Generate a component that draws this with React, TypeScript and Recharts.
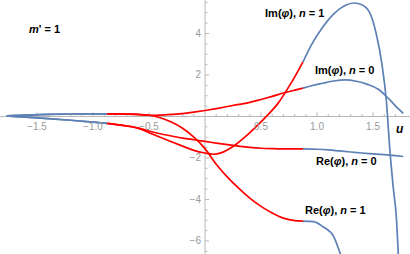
import React from "react";
import { LineChart, Line, XAxis, YAxis, ReferenceLine, ReferenceDot } from "recharts";

// curve samples (u, value)
const imN0U = [-1.77, -1.6, -1.4, -1.2, -1.0, -0.875, -0.75, -0.6, -0.5, -0.4, -0.3, -0.2, -0.1, 0, 0.1, 0.2, 0.3, 0.4, 0.5, 0.6, 0.7, 0.8, 0.875, 0.95, 1.05, 1.15, 1.25, 1.35, 1.45, 1.55, 1.65, 1.72, 1.77];
const imN0V = [0.03, 0.07, 0.1, 0.12, 0.13, 0.13, 0.13, 0.1, 0.06, 0.07, 0.1, 0.14, 0.21, 0.29, 0.38, 0.48, 0.58, 0.68, 0.82, 0.97, 1.13, 1.27, 1.37, 1.48, 1.6, 1.71, 1.76, 1.7, 1.55, 1.3, 0.8, 0.4, 0.15];

const imN1U = [-1.77, -1.6, -1.4, -1.2, -1.0, -0.875, -0.75, -0.6, -0.5, -0.4, -0.3, -0.2, -0.1, 0, 0.07, 0.15, 0.25, 0.35, 0.45, 0.55, 0.65, 0.75, 0.8, 0.875, 0.95, 1.05, 1.15, 1.25, 1.33, 1.4, 1.47, 1.53, 1.58, 1.62, 1.65, 1.68, 1.71, 1.725, 1.74];
const imN1V = [0.03, -0.03, -0.1, -0.18, -0.27, -0.33, -0.42, -0.56, -0.78, -1.0, -1.22, -1.43, -1.63, -1.76, -1.82, -1.74, -1.45, -1.02, -0.52, 0.02, 0.62, 1.45, 1.9, 2.63, 3.45, 4.3, 4.95, 5.35, 5.47, 5.38, 5.0, 3.95, 2.5, 0.7, -1.6, -3.4, -5.0, -6.6, -8.0];

const reN0U = [-1.77, -1.6, -1.4, -1.2, -1.0, -0.875, -0.75, -0.6, -0.5, -0.4, -0.3, -0.2, -0.1, 0, 0.1, 0.2, 0.3, 0.4, 0.5, 0.6, 0.7, 0.8, 0.875, 1.0, 1.1, 1.2, 1.3, 1.4, 1.5, 1.6, 1.7, 1.77];
const reN0V = [0.03, -0.03, -0.1, -0.18, -0.27, -0.33, -0.42, -0.55, -0.7, -0.83, -0.94, -1.04, -1.12, -1.2, -1.28, -1.36, -1.43, -1.49, -1.53, -1.55, -1.56, -1.56, -1.56, -1.58, -1.61, -1.66, -1.71, -1.76, -1.8, -1.84, -1.89, -1.93];

const reN1U = [-1.77, -1.6, -1.4, -1.2, -1.0, -0.875, -0.75, -0.6, -0.5, -0.4, -0.3, -0.2, -0.1, 0, 0.1, 0.2, 0.3, 0.4, 0.5, 0.6, 0.7, 0.8, 0.875, 0.97, 1.05, 1.15, 1.2, 1.25];
const reN1V = [0.03, 0.07, 0.1, 0.12, 0.13, 0.13, 0.13, 0.1, 0.06, -0.06, -0.27, -0.57, -1.0, -1.55, -2.3, -2.92, -3.45, -3.93, -4.33, -4.65, -4.9, -5.02, -5.04, -5.07, -5.3, -5.8, -6.5, -7.3];

const xMajorTicks = [-1.5, -1.0, -0.5, 0.5, 1.0, 1.5];
const xTickLabels = ["\u22121.5", "\u22121.0", "\u22120.5", "0.5", "1.0", "1.5"];
const xMinorTicks = [-1.7, -1.6, -1.4, -1.3, -1.2, -1.1, -0.9, -0.8, -0.7, -0.6, -0.4, -0.3, -0.2, -0.1, 0.1, 0.2, 0.3, 0.4, 0.6, 0.7, 0.8, 0.9, 1.1, 1.2, 1.3, 1.4, 1.6, 1.7];
const yMajorTicks = [-6, -4, -2, 2, 4];
const yTickLabels = ["\u22126", "\u22124", "\u22122", "2", "4"];
const yMinorTicks = [-6.5, -5.5, -5, -4.5, -3.5, -3, -2.5, -1.5, -1, -0.5, 0.5, 1, 1.5, 2.5, 3, 3.5, 4.5, 5, 5.5];

const SPLIT_LO = -0.875;
const SPLIT_HI = 0.875;
const BLUE = "#5E81B5";
const RED = "#FF0000";
const FONT = "'Liberation Sans', Arial, sans-serif";

function pieces(us: number[], vs: number[]) {
  const pts = us.map((u, i) => ({ u, v: vs[i] }));
  return [
    { pts: pts.filter((p) => p.u <= SPLIT_LO), color: BLUE },
    { pts: pts.filter((p) => p.u >= SPLIT_LO && p.u <= SPLIT_HI), color: RED },
    { pts: pts.filter((p) => p.u >= SPLIT_HI), color: BLUE },
  ];
}

const curves = [
  { name: "imN0", segs: pieces(imN0U, imN0V) },
  { name: "imN1", segs: pieces(imN1U, imN1V) },
  { name: "reN0", segs: pieces(reN0U, reN0V) },
  { name: "reN1", segs: pieces(reN1U, reN1V) },
];

const Lbl = ({ a, b, c }: { a: string; b: string; c: string }) => (
  <>
    <tspan>{a}(</tspan>
    <tspan fontStyle="italic">{b}</tspan>
    <tspan>), </tspan>
    <tspan fontStyle="italic">n</tspan>
    <tspan> = {c}</tspan>
  </>
);

export default function App() {
  const axisCol = "#b8b8b8";
  const tickCol = "#999";
  return (
    <div style={{ position: "absolute", left: 0, top: 0, background: "#fff" }}>
      <LineChart width={410} height={254} margin={{ top: 0, right: 0, bottom: 0, left: 0 }}>
        <XAxis type="number" dataKey="u" domain={[-1.83, 1.83]} hide allowDataOverflow />
        <YAxis type="number" domain={[-6.627, 5.614]} hide allowDataOverflow />

        <ReferenceLine y={0} stroke={axisCol} strokeWidth={1} />
        <ReferenceLine x={0} stroke={axisCol} strokeWidth={1} />
        {xMajorTicks.map((t) => (
          <ReferenceLine key={"xM" + t} segment={[{ x: t, y: 0 }, { x: t, y: 0.2 }]} stroke={axisCol} />
        ))}
        {xMinorTicks.map((t) => (
          <ReferenceLine key={"xm" + t} segment={[{ x: t, y: 0 }, { x: t, y: 0.12 }]} stroke={axisCol} />
        ))}
        {yMajorTicks.map((t) => (
          <ReferenceLine key={"yM" + t} segment={[{ x: 0, y: t }, { x: 0.036, y: t }]} stroke={axisCol} />
        ))}
        {yMinorTicks.map((t) => (
          <ReferenceLine key={"ym" + t} segment={[{ x: 0, y: t }, { x: 0.022, y: t }]} stroke={axisCol} />
        ))}
        {xMajorTicks.map((t, i) => (
          <ReferenceDot key={"xl" + t} x={t} y={0} r={0}
            shape={(p: any) => (
              <text x={p.cx} y={p.cy + 14} textAnchor="middle" fontFamily={FONT} fontSize={10} fill={tickCol}>
                {xTickLabels[i]}
              </text>
            )}
          />
        ))}
        {yMajorTicks.map((t, i) => (
          <ReferenceDot key={"yl" + t} x={0} y={t} r={0}
            shape={(p: any) => (
              <text x={p.cx - 4} y={p.cy + 3.5} textAnchor="end" fontFamily={FONT} fontSize={10} fill={tickCol}>
                {yTickLabels[i]}
              </text>
            )}
          />
        ))}

        {curves.map((c) =>
          c.segs.map((s, j) => (
            <Line key={c.name + j} data={s.pts} dataKey="v" type="monotone" stroke={s.color}
              strokeWidth={1.7} dot={false} activeDot={false} isAnimationActive={false} />
          ))
        )}

        <ReferenceDot x={0.536} y={4.8} r={0}
          shape={(p: any) => (
            <text x={p.cx} y={p.cy} fontFamily={FONT} fontSize={11} fontWeight="bold" fill="#000">
              <Lbl a="Im" b="φ" c="1" />
            </text>
          )}
        />
        <ReferenceDot x={0.982} y={2.05} r={0}
          shape={(p: any) => (
            <text x={p.cx} y={p.cy} fontFamily={FONT} fontSize={11} fontWeight="bold" fill="#000">
              <Lbl a="Im" b="φ" c="0" />
            </text>
          )}
        />
        <ReferenceDot x={0.991} y={-2.34} r={0}
          shape={(p: any) => (
            <text x={p.cx} y={p.cy} fontFamily={FONT} fontSize={11} fontWeight="bold" fill="#000">
              <Lbl a="Re" b="φ" c="0" />
            </text>
          )}
        />
        <ReferenceDot x={0.893} y={-4.7} r={0}
          shape={(p: any) => (
            <text x={p.cx} y={p.cy} fontFamily={FONT} fontSize={11} fontWeight="bold" fill="#000">
              <Lbl a="Re" b="φ" c="1" />
            </text>
          )}
        />
        <ReferenceDot x={-1.571} y={4.02} r={0}
          shape={(p: any) => (
            <text x={p.cx} y={p.cy} fontFamily={FONT} fontSize={11} fontWeight="bold" fill="#000">
              <tspan fontStyle="italic">m</tspan>
              <tspan>' = 1</tspan>
            </text>
          )}
        />
        <ReferenceDot x={1.705} y={-0.8} r={0}
          shape={(p: any) => (
            <text x={p.cx} y={p.cy} fontFamily={FONT} fontSize={12} fontWeight="bold" fontStyle="italic" fill="#000">
              u
            </text>
          )}
        />
      </LineChart>
    </div>
  );
}
